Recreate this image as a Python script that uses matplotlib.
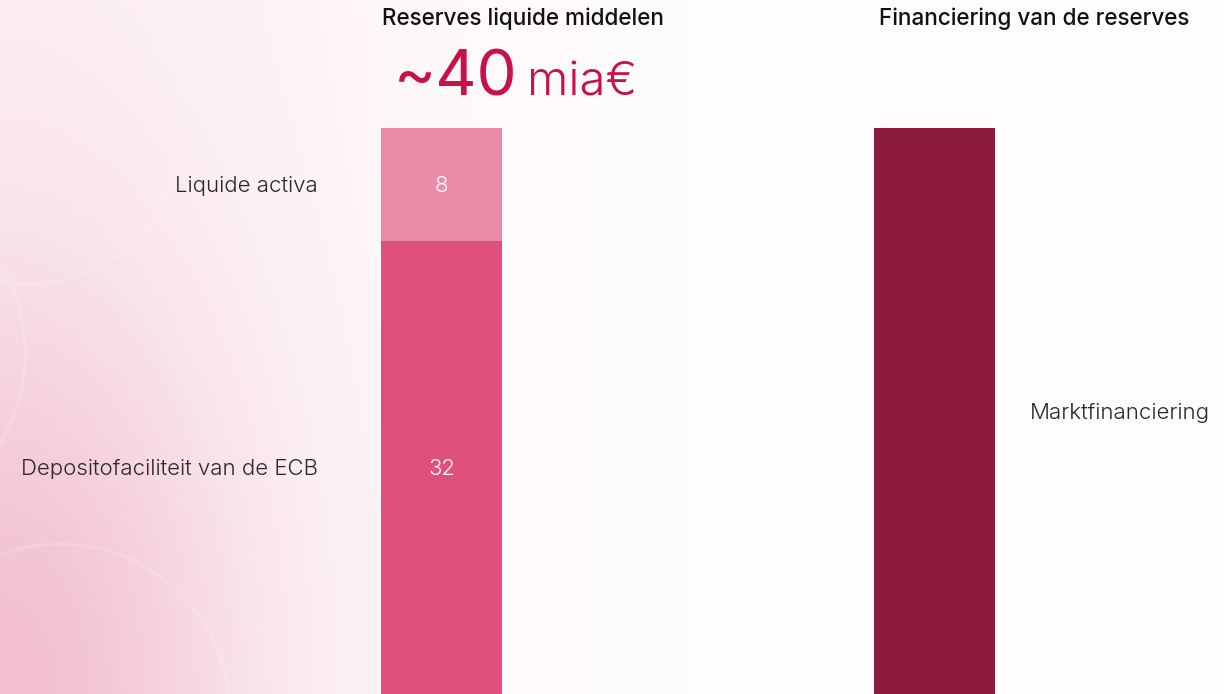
import numpy as np
import matplotlib.pyplot as plt
from matplotlib.patches import Circle

# reserves (bn EUR) and how they are funded
segments = ["Depositofaciliteit van de ECB", "Liquide activa"]
reserve_values = [32, 8]
funding_label = "Marktfinanciering"
funding_value = 40
total_label = "~40"

col_deposit = "#E0507C"
col_liquid = "#EA8BA7"
col_funding = "#8B1A3C"
accent = "#C8104A"
txt = "#2a2a2a"

plt.rcParams["font.family"] = ["Inter", "DejaVu Sans"]

W, H = 1224, 694
fig = plt.figure(figsize=(W / 100, H / 100), dpi=100)

# soft pink wash coming from the lower-left corner
bg = fig.add_axes([0, 0, 1, 1])
xx, yy = np.meshgrid(np.linspace(0, 1, W), np.linspace(0, 1, H))
d = 1 - yy
w = 0.6 * np.exp(-(xx / 0.2) ** 2 - (d / 0.6) ** 2) + 0.16 * np.exp(-(xx / 0.35) ** 2)
w = np.clip(w, 0, 1)[..., None]
pink = np.array([238, 172, 192]) / 255
white = np.array([255, 253, 253]) / 255
bg.imshow(white * (1 - w) + pink * w, extent=[0, W, 0, H], origin="upper",
          aspect="auto", interpolation="bilinear")
for cx, cy, r in [(-150, 340, 175), (60, -20, 170), (30, 560, 150)]:
    bg.add_patch(Circle((cx, cy), r, fill=False, ec="white", lw=2.5, alpha=0.15))
bg.set_xlim(0, W)
bg.set_ylim(0, H)
bg.axis("off")

# bar axes: y runs 0..40, top of the 40 bars sits at ~127 px
top = (H - 127.5) / H
ax = fig.add_axes([0, 0, 1, top])
ax.patch.set_alpha(0)
width = 121 / 493
x_res, x_fun = 0, 1

ax.bar(x_res, reserve_values[0], width, color=col_deposit)
ax.bar(x_res, reserve_values[1], width, bottom=reserve_values[0], color=col_liquid)
ax.bar(x_fun, funding_value, width, color=col_funding)

ax.set_xlim(-441.5 / 493, 1 + (W - 934.5) / 493)
ax.set_ylim(0, 40)
ax.axis("off")

bottoms = [0, reserve_values[0]]
for name, v, b in zip(segments, reserve_values, bottoms):
    ax.text(x_res, b + v / 2, str(v), color="white", fontsize=16, fontweight=300,
            ha="center", va="center_baseline")
    ax.text(x_res - width / 2 - 63 / 493, b + v / 2, name, color=txt, fontsize=16,
            fontweight=300, ha="right", va="center_baseline")

ax.text(x_fun + width / 2 + 35 / 493, funding_value / 2, funding_label, color=txt,
        fontsize=16, fontweight=300, ha="left", va="center_baseline")

# headers
fig.text(382 / W, 1 - 19 / H, "Reserves liquide middelen", fontsize=16.2, fontweight=500,
         color="#111111", ha="left", va="center")
fig.text(879 / W, 1 - 19 / H, "Financiering van de reserves", fontsize=16.2, fontweight=500,
         color="#111111", ha="left", va="center")
fig.text(394 / W, 1 - 95 / H, total_label, fontsize=46, color=accent, ha="left",
         va="baseline", fontweight=400)
fig.text(527 / W, 1 - 95 / H, "mia€", fontsize=34, color=accent, ha="left",
         va="baseline", fontweight=300)

fig.savefig("out.png", dpi=100)
